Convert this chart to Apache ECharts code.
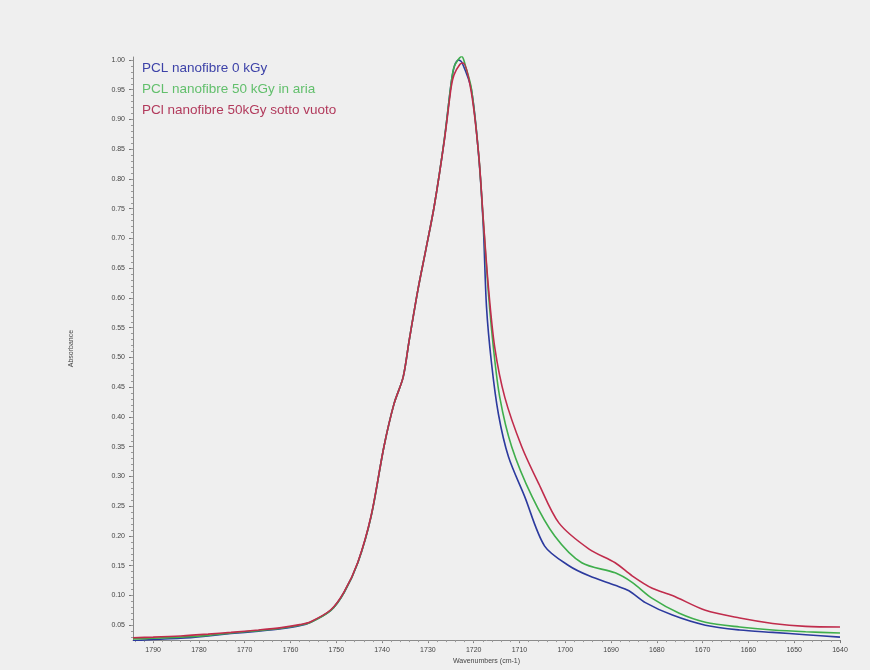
<!DOCTYPE html>
<html>
<head>
<meta charset="utf-8">
<script src="https://cdn.jsdelivr.net/npm/echarts@6/dist/echarts.min.js"></script>
<style>
  html, body { margin: 0; padding: 0; background: #efefef; }
  #chart { width: 870px; height: 670px; }
</style>
</head>
<body>
<div id="chart"></div>
<script>
// series names (legend)
const seriesNames = ['PCL nanofibre 0 kGy', 'PCL nanofibre 50 kGy in aria', 'PCl nanofibre 50kGy sotto vuoto'];

// tick labels
const xTicks = [1790, 1780, 1770, 1760, 1750, 1740, 1730, 1720, 1710, 1700, 1690, 1680, 1670, 1660, 1650, 1640];
const yTicks = [0.05, 0.10, 0.15, 0.20, 0.25, 0.30, 0.35, 0.40, 0.45, 0.50, 0.55, 0.60, 0.65, 0.70, 0.75, 0.80, 0.85, 0.90, 0.95, 1.00];

// wavenumbers (cm-1) and absorbance
const waveBlue = [1794.4, 1790, 1784, 1778, 1773, 1767, 1762, 1758, 1755.6, 1751.2, 1748.3, 1745.3, 1742.4, 1739.6, 1737.4, 1735.4, 1734.1, 1732.1, 1730.4, 1728.6, 1726.4, 1724.9, 1724.2, 1723.3, 1722.5, 1720.5, 1718.9, 1717.9, 1717.2, 1716.1, 1714.6, 1712.4, 1708.9, 1704.5, 1699.2, 1694.8, 1689.1, 1686.1, 1682.5, 1676.6, 1669.4, 1661.9, 1654.7, 1647.5, 1640];
const absBlue  = [0.024, 0.026, 0.028, 0.032, 0.036, 0.040, 0.044, 0.049, 0.055, 0.075, 0.105, 0.155, 0.233, 0.350, 0.422, 0.467, 0.528, 0.617, 0.683, 0.755, 0.867, 0.962, 0.990, 1.000, 0.995, 0.950, 0.838, 0.720, 0.585, 0.490, 0.405, 0.333, 0.267, 0.183, 0.150, 0.133, 0.117, 0.108, 0.088, 0.067, 0.050, 0.042, 0.038, 0.034, 0.030];

const waveGreen = [1794.4, 1790, 1784, 1778, 1773, 1767, 1762, 1758, 1755.6, 1751.2, 1748.3, 1745.3, 1742.4, 1739.6, 1737.4, 1735.4, 1734.1, 1732.1, 1730.4, 1728.6, 1726.4, 1724.9, 1724.2, 1722.6, 1721.8, 1720.5, 1718.9, 1717.9, 1716.8, 1715.7, 1714.3, 1711.7, 1707.3, 1702.3, 1696.4, 1689.1, 1685.4, 1681.0, 1675.1, 1669.4, 1661.9, 1654.7, 1647.5, 1640];
const absGreen  = [0.027, 0.028, 0.030, 0.033, 0.037, 0.041, 0.045, 0.050, 0.055, 0.075, 0.105, 0.155, 0.233, 0.350, 0.422, 0.467, 0.528, 0.617, 0.683, 0.755, 0.867, 0.962, 0.990, 1.006, 0.990, 0.952, 0.840, 0.730, 0.610, 0.517, 0.433, 0.350, 0.267, 0.200, 0.155, 0.138, 0.122, 0.095, 0.070, 0.055, 0.047, 0.042, 0.039, 0.037];

const waveRed = [1794.4, 1790, 1784, 1778, 1773, 1767, 1762, 1758, 1755.6, 1751.2, 1748.3, 1745.3, 1742.4, 1739.6, 1737.4, 1735.4, 1734.1, 1732.1, 1730.4, 1728.6, 1726.4, 1724.9, 1724.3, 1723.0, 1722.3, 1720.5, 1718.9, 1717.9, 1716.8, 1715.4, 1713.2, 1709.5, 1705.8, 1701.4, 1694.8, 1689.1, 1685.4, 1681.0, 1676.6, 1669.4, 1661.9, 1654.7, 1647.5, 1640];
const absRed  = [0.029, 0.030, 0.032, 0.035, 0.038, 0.042, 0.046, 0.051, 0.056, 0.076, 0.106, 0.156, 0.234, 0.350, 0.422, 0.467, 0.528, 0.617, 0.683, 0.755, 0.865, 0.955, 0.975, 0.993, 0.995, 0.945, 0.840, 0.732, 0.620, 0.517, 0.433, 0.350, 0.288, 0.222, 0.178, 0.155, 0.133, 0.112, 0.100, 0.075, 0.062, 0.053, 0.048, 0.047];

const colors = ['#2c3a9e', '#3fae4c', '#c02c4c'];
const legendColors = ['#3d42a8', '#62bf6c', '#b23a5c'];

function pairs(xs, ys) {
  return xs.map((x, i) => [x, ys[i]]);
}

const minorY = [];
for (let v = 3; v <= 100; v++) minorY.push(v / 100);
const minorX = [];
for (let w = 1642; w <= 1794; w += 2) minorX.push(w);

const chart = echarts.init(document.getElementById('chart'));
const labelFont = { fontFamily: 'Liberation Sans', fontSize: 7, color: '#444' };

chart.setOption({
  backgroundColor: '#efefef',
  animation: false,
  textStyle: { fontFamily: 'Liberation Sans' },
  grid: { left: 133, right: 30, top: 57, bottom: 25 },
  legend: {
    orient: 'vertical',
    left: 132,
    top: 56,
    icon: 'none',
    itemWidth: 0,
    itemHeight: 13,
    itemGap: 7,
    selectedMode: false,
    data: seriesNames.map((n, i) => ({
      name: n,
      textStyle: { color: legendColors[i], fontSize: 13.5, fontFamily: 'Liberation Sans' }
    }))
  },
  xAxis: [{
    type: 'value',
    min: 1640,
    max: 1794.4,
    inverse: true,
    name: 'Wavenumbers (cm-1)',
    nameLocation: 'middle',
    nameGap: 17,
    nameTextStyle: labelFont,
    axisLine: { lineStyle: { color: '#8a8a8a', width: 1 } },
    axisTick: { customValues: xTicks, length: 3, lineStyle: { color: '#777' } },
    axisLabel: Object.assign({
      customValues: xTicks,
      margin: 6,
      formatter: v => String(Math.round(v))
    }, labelFont),
    splitLine: { show: false }
  }, {
    type: 'value',
    min: 1640,
    max: 1794.4,
    inverse: true,
    position: 'bottom',
    axisLine: { show: false },
    axisTick: { customValues: minorX, length: 2, lineStyle: { color: '#9a9a9a' } },
    axisLabel: { show: false },
    splitLine: { show: false }
  }],
  yAxis: [{
    type: 'value',
    min: 0.025,
    max: 1.005,
    name: 'Absorbance',
    nameLocation: 'middle',
    nameGap: 58,
    nameRotate: 90,
    nameTextStyle: labelFont,
    axisLine: { show: true, lineStyle: { color: '#8a8a8a', width: 1 } },
    axisTick: { customValues: yTicks, length: 4, lineStyle: { color: '#777' } },
    axisLabel: Object.assign({
      customValues: yTicks,
      margin: 8,
      formatter: v => v.toFixed(2)
    }, labelFont),
    splitLine: { show: false }
  }, {
    type: 'value',
    min: 0.025,
    max: 1.005,
    position: 'left',
    axisLine: { show: false },
    axisTick: { customValues: minorY, length: 2, lineStyle: { color: '#9a9a9a' } },
    axisLabel: { show: false },
    splitLine: { show: false }
  }],
  series: [
    { name: seriesNames[0], type: 'line', data: pairs(waveBlue, absBlue) },
    { name: seriesNames[1], type: 'line', data: pairs(waveGreen, absGreen) },
    { name: seriesNames[2], type: 'line', data: pairs(waveRed, absRed) }
  ].map((s, i) => Object.assign(s, {
    showSymbol: false,
    smooth: 0.3,
    lineStyle: { color: colors[i], width: 1.6 },
    itemStyle: { color: colors[i] }
  }))
});
</script>
</body>
</html>
